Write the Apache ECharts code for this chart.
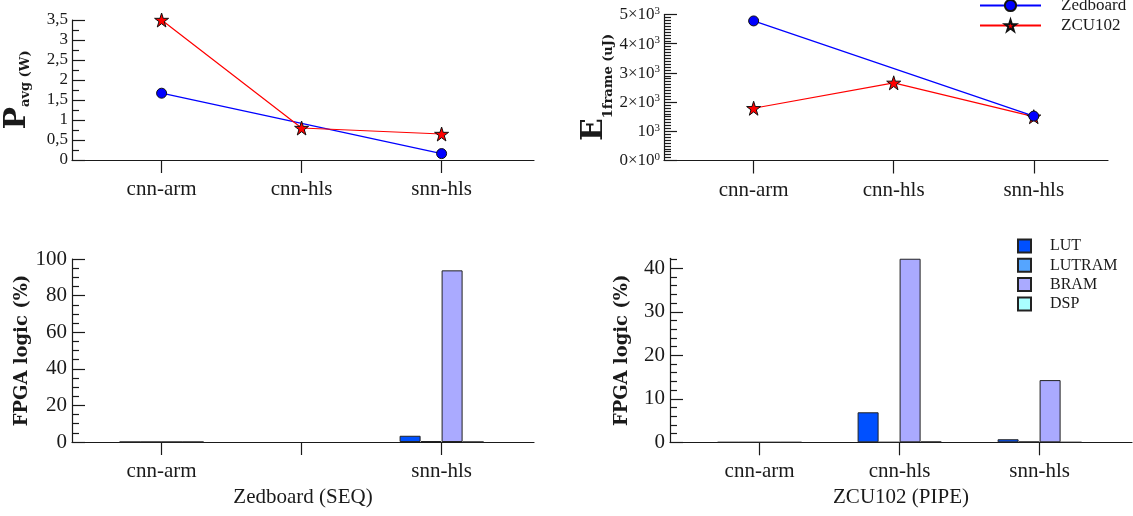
<!DOCTYPE html>
<html>
<head>
<meta charset="utf-8">
<script src="https://cdn.jsdelivr.net/npm/echarts@6/dist/echarts.min.js"></script>
<style>html,body{margin:0;padding:0;background:#fff}#c{width:1133px;height:516px}</style>
</head>
<body>
<div id="c"></div>
<script>
// ---------- data ----------
const categories = ['cnn-arm', 'cnn-hls', 'snn-hls'];
const zedCategoryLabels = ['cnn-arm', '', 'snn-hls'];
const boards = ['Zedboard', 'ZCU102'];

const pavgZedboard = [1.67, null, 0.16];
const pavgZCU102 = [3.5, 0.8, 0.65];

const energyZedboard = [4780, null, 1520];
const energyZCU102 = [1790, 2660, 1500];

const resources = ['LUT', 'LUTRAM', 'BRAM', 'DSP'];
const zedLUT = [0, null, 3.4];
const zedLUTRAM = [0, null, 0.5];
const zedBRAM = [0, null, 93.8];
const zedDSP = [0, null, 0];
const zcuLUT = [0, 6.9, 0.7];
const zcuLUTRAM = [0, 0, 0.15];
const zcuBRAM = [0, 42.2, 14.3];
const zcuDSP = [0, 0.15, 0];

const zcuLogicTicks = [0, 10, 20, 30, 40];
const zcuLogicMinorTicks = [2, 4, 6, 8, 12, 14, 16, 18, 22, 24, 26, 28, 32, 34, 36, 38, 42];

// ---------- styling ----------
const FONT = 'Liberation Serif';
const NAMEFONT = 'DejaVu Serif';
const TXT = '#1a1a1a';
const AX = '#1a1a1a';
const resourceColors = ['#0050ff', '#55a5ff', '#aaaaff', '#aaffff'];
const STAR = 'path://M50,0 L61.2,34.5 L97.6,34.5 L68.2,55.9 L79.4,90.5 L50,69.1 L20.6,90.5 L31.8,55.9 L2.4,34.5 L38.8,34.5 Z';
const xMin = -0.64, xMax = 2.66, xMaxEnergy = 2.53;
const catIdx = categories.map((c, i) => i);

function toXY(arr) { return arr.map((v, i) => [i, v]); }

function xAxisCfg(gridIndex, labels, name, max) {
  return {
    type: 'value', gridIndex: gridIndex, min: xMin, max: max,
    axisLine: { show: true, onZero: false, lineStyle: { color: AX, width: 1.2 } },
    axisTick: { show: true, customValues: catIdx, length: 13, lineStyle: { color: AX, width: 1.2 } },
    axisLabel: { customValues: catIdx, formatter: v => labels[Math.round(v)] || '', fontFamily: FONT, fontSize: 21, color: TXT, margin: 19 },
    splitLine: { show: false },
    name: name || '', nameLocation: 'middle', nameGap: 45,
    nameTextStyle: { fontFamily: FONT, fontSize: 21, color: TXT, verticalAlign: 'top' }
  };
}

function yAxisCfg(gridIndex, o) {
  return Object.assign({
    type: 'value', gridIndex: gridIndex, min: 0, position: 'left',
    axisLine: { show: true, onZero: false, lineStyle: { color: AX, width: 1.2 } },
    axisTick: { show: true, inside: true, length: 13, lineStyle: { color: AX, width: 1.2 } },
    minorTick: { show: false },
    splitLine: { show: false },
    nameLocation: 'middle', nameRotate: 90
  }, o);
}

const logicNameStyle = { fontFamily: NAMEFONT, fontWeight: 'bold', fontSize: 18, color: TXT };

const chart = echarts.init(document.getElementById('c'), null, { renderer: 'canvas' });

const lineCommon = (name, color, symbol, size) => ({
  type: 'line', name: name, connectNulls: true, symbol: symbol, symbolSize: size,
  itemStyle: { color: color, borderColor: '#111', borderWidth: 1 },
  lineStyle: { color: color, width: 1.2 }
});

function barSeries(xi, yi, name, idx, values) {
  return {
    type: 'bar', name: name, xAxisIndex: xi, yAxisIndex: yi, data: toXY(values),
    barWidth: 21, barGap: '0%',
    itemStyle: { color: resourceColors[idx], borderColor: '#222', borderWidth: 1 }
  };
}

const option = {
  animation: false,
  backgroundColor: '#ffffff',
  grid: [
    { left: 72, top: 20, width: 462, height: 140 },
    { left: 664, top: 14.5, width: 444, height: 146 },
    { left: 72, top: 259, width: 462, height: 183 },
    { left: 670, top: 258.3, width: 462, height: 184 }
  ],
  legend: [
    {
      data: boards, orient: 'vertical', left: 974, top: -8,
      itemWidth: 61, itemHeight: 14, itemGap: 3,
      textStyle: { fontFamily: FONT, fontSize: 17, color: TXT, padding: [0, 0, 0, 15] }
    },
    {
      data: resources, orient: 'vertical', left: 1012, top: 233,
      itemWidth: 13, itemHeight: 13, itemGap: 3.3, icon: 'rect',
      textStyle: { fontFamily: FONT, fontSize: 16, color: TXT, padding: [0, 0, 0, 14] }
    }
  ],
  xAxis: [
    xAxisCfg(0, categories, '', xMax),
    xAxisCfg(1, categories, '', xMaxEnergy),
    xAxisCfg(2, zedCategoryLabels, 'Zedboard (SEQ)', xMax),
    xAxisCfg(3, categories, 'ZCU102 (PIPE)', xMax)
  ],
  yAxis: [
    yAxisCfg(0, {
      max: 3.5, interval: 0.5,
      minorTick: { show: true, splitNumber: 2, length: 7, lineStyle: { color: AX, width: 1.2 } },
      axisLabel: { fontFamily: FONT, fontSize: 17, color: TXT, margin: 4, formatter: v => String(v).replace('.', ',') },
      name: '{big|P}{sub|avg (W)}', nameGap: 40,
      nameTextStyle: { rich: {
        big: { fontFamily: NAMEFONT, fontWeight: 'bold', fontSize: 30, color: TXT, lineHeight: 30 },
        sub: { fontFamily: NAMEFONT, fontWeight: 'bold', fontSize: 13, color: TXT, lineHeight: 13, verticalAlign: 'bottom' }
      } }
    }),
    yAxisCfg(1, {
      max: 5000, interval: 1000,
      minorTick: { show: true, splitNumber: 10, length: 7, lineStyle: { color: AX, width: 1.2 } },
      axisLabel: { margin: 4, formatter: v => {
          if (v === 0) return '{m|0×10}{s|0}';
          if (v === 1000) return '{m|10}{s|3}';
          return '{m|' + (v / 1000) + '×10}{s|3}';
        },
        rich: {
          m: { fontFamily: FONT, fontSize: 17, color: TXT, lineHeight: 18, padding: [2, 0, 0, 0], verticalAlign: 'bottom' },
          s: { fontFamily: FONT, fontSize: 11, color: TXT, lineHeight: 11, verticalAlign: 'top' }
        }
      },
      name: '{big|E}{sub|1frame (uJ)}', nameGap: 41,
      nameTextStyle: { rich: {
        big: { fontFamily: NAMEFONT, fontWeight: 'bold', fontSize: 30, color: TXT, lineHeight: 30 },
        sub: { fontFamily: NAMEFONT, fontWeight: 'bold', fontSize: 13, color: TXT, lineHeight: 13, verticalAlign: 'bottom', padding: [0, 0, -6, 0] }
      } }
    }),
    yAxisCfg(2, {
      max: 100, interval: 20,
      minorTick: { show: true, splitNumber: 4, length: 7, lineStyle: { color: AX, width: 1.2 } },
      axisLabel: { fontFamily: FONT, fontSize: 21, color: TXT, margin: 5 },
      name: 'FPGA logic (%)', nameGap: 41, nameTextStyle: logicNameStyle
    }),
    yAxisCfg(3, {
      max: 42.3,
      axisTick: { show: true, inside: true, length: 13, customValues: zcuLogicTicks, lineStyle: { color: AX, width: 1.2 } },
      axisLabel: { customValues: zcuLogicTicks, fontFamily: FONT, fontSize: 21, color: TXT, margin: 5 },
      name: 'FPGA logic (%)', nameGap: 39, nameTextStyle: logicNameStyle
    }),
    yAxisCfg(3, {
      max: 42.3,
      axisLine: { show: false, onZero: false },
      axisTick: { show: true, inside: true, length: 7, customValues: zcuLogicMinorTicks, lineStyle: { color: AX, width: 1.2 } },
      axisLabel: { show: false }
    })
  ],
  series: [
    Object.assign(lineCommon('Zedboard', '#0000ff', 'circle', 10), { xAxisIndex: 0, yAxisIndex: 0, data: toXY(pavgZedboard) }),
    Object.assign(lineCommon('ZCU102', '#ff0000', STAR, 14), { xAxisIndex: 0, yAxisIndex: 0, data: toXY(pavgZCU102) }),
    Object.assign(lineCommon('ZCU102', '#ff0000', STAR, 14), { xAxisIndex: 1, yAxisIndex: 1, data: toXY(energyZCU102) }),
    Object.assign(lineCommon('Zedboard', '#0000ff', 'circle', 10), { xAxisIndex: 1, yAxisIndex: 1, data: toXY(energyZedboard) }),
    barSeries(2, 2, 'LUT', 0, zedLUT),
    barSeries(2, 2, 'LUTRAM', 1, zedLUTRAM),
    barSeries(2, 2, 'BRAM', 2, zedBRAM),
    barSeries(2, 2, 'DSP', 3, zedDSP),
    barSeries(3, 3, 'LUT', 0, zcuLUT),
    barSeries(3, 3, 'LUTRAM', 1, zcuLUTRAM),
    barSeries(3, 3, 'BRAM', 2, zcuBRAM),
    barSeries(3, 3, 'DSP', 3, zcuDSP)
  ]
};
chart.setOption(option);
</script>
</body>
</html>
